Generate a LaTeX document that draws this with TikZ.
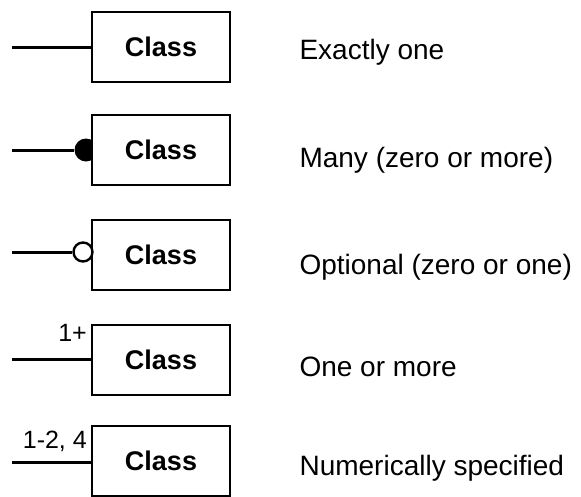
\documentclass[tikz,border=0pt]{standalone}
\usepackage{fontspec}
\setmainfont{Liberation Sans}
\usetikzlibrary{positioning}
\tikzset{
    classbox/.style={draw, fill=white, rectangle, line width=2.6pt, minimum width=138pt, minimum height=70pt, font=\fontsize{27}{32}\selectfont\bfseries},
    desc/.style={anchor=west, font=\fontsize{28}{33}\selectfont},
    multlabel/.style={inner sep=1pt, font=\fontsize{25}{30}\selectfont},
    assoc/.style={line width=3pt},
    manydot/.style={circle, fill=black, inner sep=0pt, minimum size=23pt},
    optdot/.style={circle, draw, fill=white, line width=2.4pt, inner sep=0pt, minimum size=19pt},
}
\begin{document}
\begin{tikzpicture}[x=1pt, y=-1pt]
    \useasboundingbox (0,0) rectangle (581,496);

    % Exactly one
    \node[classbox] (exact) at (161,47) {Class};
    \coordinate (exactend) at (12,47);
    \draw[assoc] (exactend) -- (exact.west);
    \node[desc] (exactdesc) at (296,52) {Exactly one};

    % Many
    \node[manydot] (manydot) at (86,150) {};
    \node[classbox] (many) at (161,150) {Class};
    \coordinate (manyend) at (12,150);
    \draw[assoc] (manyend) -- (manydot);
    \node[desc] (manydesc) at (296,160) {Many (zero or more)};

    % Optional
    \node[classbox] (optional) at (161,255) {Class};
    \coordinate (optend) at (12,252);
    \node[optdot] (optdot) at (83,252) {};
    \draw[assoc] (optend) -- (optdot.west);
    \node[desc] (optdesc) at (296,267) {Optional (zero or one)};

    % One or more
    \node[classbox] (oneplus) at (161,360) {Class};
    \coordinate (oneplusend) at (12,359);
    \draw[assoc] (oneplusend) -- (oneplusend -| oneplus.west);
    \node[multlabel, anchor=east] (oneplusmult) at (88,333) {1+};
    \node[desc] (oneplusdesc) at (296,367) {One or more};

    % Numerically specified
    \node[classbox] (numeric) at (161,461) {Class};
    \coordinate (numend) at (12,462);
    \draw[assoc] (numend) -- (numend -| numeric.west);
    \node[multlabel, anchor=east] (nummult) at (88,441) {1-2, 4};
    \node[desc] (numdesc) at (296,468) {Numerically specified};
\end{tikzpicture}
\end{document}
